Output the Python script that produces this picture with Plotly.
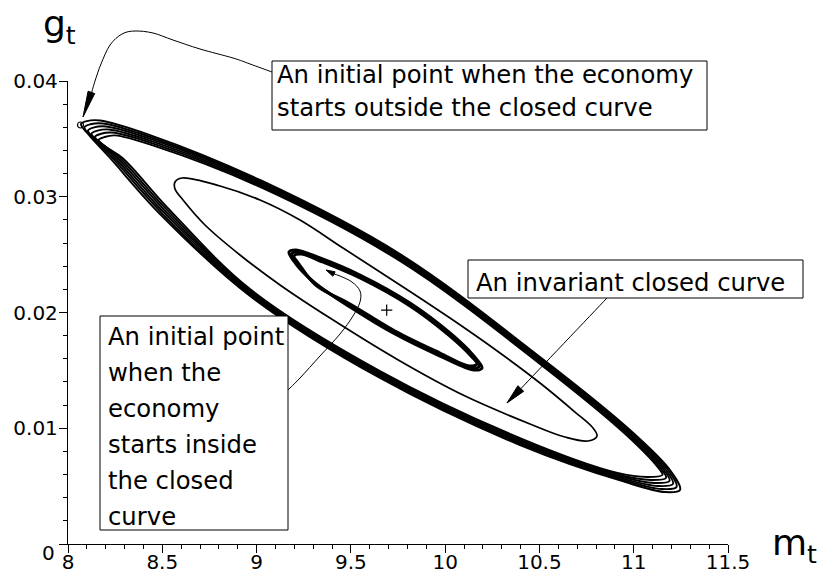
import plotly.graph_objects as go

# ---------------------------------------------------------------
# Trajectories in the (m_t, g_t) plane
# ---------------------------------------------------------------
# Orbit that starts outside the closed curve: successive laps
outer_m = [
    [8.0689, 8.1008, 8.1697, 8.4348, 9.0182, 9.7606, 10.5030, 10.9803, 11.1924, 11.2455, 11.1659, 10.9538, 10.3970, 9.6546, 8.9652, 8.4879, 8.2227, 8.1061, 8.0689],
    [8.0875, 8.1194, 8.1856, 8.4401, 9.0182, 9.7606, 10.5030, 10.9777, 11.1818, 11.2269, 11.1473, 10.9459, 10.3970, 9.6546, 8.9652, 8.4953, 8.2359, 8.1247, 8.0875],
    [8.1060, 8.1379, 8.2015, 8.4454, 9.0182, 9.7606, 10.5030, 10.9750, 11.1712, 11.2084, 11.1288, 10.9379, 10.3970, 9.6546, 8.9652, 8.5027, 8.2492, 8.1432, 8.1060],
    [8.1246, 8.1565, 8.2174, 8.4507, 9.0182, 9.7606, 10.5030, 10.9724, 11.1606, 11.1898, 11.1102, 10.9300, 10.3970, 9.6546, 8.9652, 8.5102, 8.2624, 8.1618, 8.1246],
    [8.1431, 8.1750, 8.2333, 8.4560, 9.0182, 9.7606, 10.5030, 10.9697, 11.1500, 11.1713, 11.0917, 10.9220, 10.3970, 9.6546, 8.9652, 8.5176, 8.2757, 8.1803, 8.1431],
    [8.1617, 8.1936, 8.2493, 8.4613, 9.0182, 9.7606, 10.5030, 10.9671, 11.1394, 11.1527, 11.0731, 10.9141, 10.3970, 9.6546, 8.9652, 8.5250, 8.2890, 8.1989, 8.1617],
]
outer_g = [
    [0.03628, 0.03654, 0.03659, 0.03533, 0.03145, 0.02505, 0.01616, 0.00985, 0.00639, 0.00467, 0.00449, 0.00536, 0.00855, 0.01434, 0.02143, 0.02851, 0.03335, 0.03542, 0.03628],
    [0.03600, 0.03626, 0.03633, 0.03514, 0.03133, 0.02493, 0.01604, 0.00975, 0.00639, 0.00493, 0.00475, 0.00552, 0.00867, 0.01446, 0.02155, 0.02863, 0.03335, 0.03520, 0.03600],
    [0.03573, 0.03599, 0.03607, 0.03495, 0.03121, 0.02481, 0.01592, 0.00964, 0.00639, 0.00519, 0.00501, 0.00567, 0.00879, 0.01458, 0.02167, 0.02875, 0.03335, 0.03499, 0.03573],
    [0.03545, 0.03571, 0.03581, 0.03476, 0.03109, 0.02469, 0.01580, 0.00954, 0.00639, 0.00545, 0.00527, 0.00583, 0.00891, 0.01470, 0.02179, 0.02887, 0.03335, 0.03477, 0.03545],
    [0.03518, 0.03544, 0.03555, 0.03457, 0.03097, 0.02457, 0.01568, 0.00943, 0.00639, 0.00571, 0.00553, 0.00598, 0.00903, 0.01482, 0.02191, 0.02899, 0.03335, 0.03456, 0.03518],
    [0.03490, 0.03516, 0.03530, 0.03438, 0.03085, 0.02445, 0.01556, 0.00933, 0.00639, 0.00597, 0.00579, 0.00614, 0.00915, 0.01494, 0.02203, 0.02911, 0.03335, 0.03434, 0.03490],
]

# The invariant closed curve
invariant_m = [9.7606, 10.0258, 10.2909, 10.5030, 10.6887, 10.7841, 10.8053, 10.7576, 10.6356, 10.4500,
               10.0947, 9.7606, 9.3894, 9.1243, 8.9121, 8.7265, 8.6099, 8.5674, 8.5674, 8.6045,
               8.8061, 9.0182, 9.2303, 9.4583, 9.7606]
invariant_g = [0.02238, 0.01952, 0.01650, 0.01391, 0.01140, 0.01002, 0.00933, 0.00890, 0.00924, 0.01037,
               0.01287, 0.01581, 0.01952, 0.02238, 0.02497, 0.02756, 0.02972, 0.03067, 0.03127, 0.03162,
               0.03093, 0.02972, 0.02799, 0.02557, 0.02238]

# Orbit that starts inside the closed curve: successive laps
inner_m = [
    [9.1720, 9.2091, 9.3364, 9.5485, 9.8136, 10.0258, 10.1477, 10.1955, 10.1530, 9.9727, 9.7341, 9.4955, 9.3099, 9.2091, 9.1720],
    [9.1853, 9.2224, 9.3364, 9.5485, 9.8136, 10.0231, 10.1398, 10.1822, 10.1397, 9.9727, 9.7341, 9.4955, 9.3126, 9.2171, 9.1853],
    [9.1985, 9.2356, 9.3364, 9.5485, 9.8136, 10.0205, 10.1318, 10.1690, 10.1265, 9.9727, 9.7341, 9.4955, 9.3152, 9.2250, 9.1985],
]
inner_g = [
    [0.02523, 0.02540, 0.02471, 0.02324, 0.02082, 0.01823, 0.01633, 0.01521, 0.01503, 0.01624, 0.01814, 0.02048, 0.02255, 0.02419, 0.02523],
    [0.02506, 0.02523, 0.02458, 0.02311, 0.02069, 0.01813, 0.01633, 0.01538, 0.01520, 0.01637, 0.01827, 0.02061, 0.02245, 0.02419, 0.02506],
    [0.02488, 0.02505, 0.02445, 0.02298, 0.02056, 0.01802, 0.01633, 0.01556, 0.01538, 0.01650, 0.01840, 0.02074, 0.02234, 0.02419, 0.02488],
]

fixed_point_m = [9.69]
fixed_point_g = [0.0202]
start_point_m = [8.0663]
start_point_g = [0.0362]

x_ticks = [8, 8.5, 9, 9.5, 10, 10.5, 11, 11.5]
x_tick_text = ["8", "8.5", "9", "9.5", "10", "10.5", "11", "11.5"]
y_ticks = [0, 0.01, 0.02, 0.03, 0.04]
y_tick_text = ["", "0.01", "0.02", "0.03", "0.04"]   # the origin label is placed separately

# ---------------------------------------------------------------
W, H = 819, 578
L, R, T, B = 68, 91, 81, 34
PW, PH = W - L - R, H - T - B
FONT = "DejaVu Sans"


def to_paper(px, py):
    """Canvas pixel position -> paper fraction of the plotting area."""
    return (px - L) / PW, (H - B - py) / PH


def smooth_path(points):
    pts = [to_paper(*p) for p in points]
    d = f"M{pts[0][0]:.5f},{pts[0][1]:.5f}"
    for i in range(len(pts) - 1):
        p0 = pts[i - 1] if i > 0 else pts[i]
        p1, p2 = pts[i], pts[i + 1]
        p3 = pts[i + 2] if i + 2 < len(pts) else pts[i + 1]
        c1 = (p1[0] + (p2[0] - p0[0]) / 6, p1[1] + (p2[1] - p0[1]) / 6)
        c2 = (p2[0] - (p3[0] - p1[0]) / 6, p2[1] - (p3[1] - p1[1]) / 6)
        d += f" C{c1[0]:.5f},{c1[1]:.5f} {c2[0]:.5f},{c2[1]:.5f} {p2[0]:.5f},{p2[1]:.5f}"
    return d


def triangle_path(points):
    pts = [to_paper(*p) for p in points]
    return "M" + " L".join(f"{x:.5f},{y:.5f}" for x, y in pts) + " Z"


fig = go.Figure()

for m, g in zip(outer_m, outer_g):
    fig.add_trace(go.Scatter(x=m, y=g, mode="lines",
                             line=dict(color="black", width=1.9, shape="spline", smoothing=1.0),
                             hoverinfo="skip", showlegend=False))

fig.add_trace(go.Scatter(x=invariant_m, y=invariant_g, mode="lines",
                         line=dict(color="black", width=1.7, shape="spline", smoothing=1.0),
                         hoverinfo="skip", showlegend=False))

for m, g in zip(inner_m, inner_g):
    fig.add_trace(go.Scatter(x=m, y=g, mode="lines",
                             line=dict(color="black", width=3, shape="spline", smoothing=1.0),
                             hoverinfo="skip", showlegend=False))

fig.add_trace(go.Scatter(x=fixed_point_m, y=fixed_point_g, mode="markers",
                         marker=dict(symbol="cross-thin", size=8, line=dict(color="black", width=1.2)),
                         hoverinfo="skip", showlegend=False))
fig.add_trace(go.Scatter(x=start_point_m, y=start_point_g, mode="markers",
                         marker=dict(symbol="circle-open", size=6, color="black", line=dict(width=1.2)),
                         hoverinfo="skip", showlegend=False, cliponaxis=False))

shapes = []
annotations = []

# Call-out boxes
boxes = [((272, 61), (707, 130)), ((100, 316), (288, 530)), ((468, 260), (803, 298))]
for (x0, y0), (x1, y1) in boxes:
    a = to_paper(x0, y1)
    b = to_paper(x1, y0)
    shapes.append(dict(type="rect", xref="paper", yref="paper", x0=a[0], y0=a[1], x1=b[0], y1=b[1],
                       line=dict(color="black", width=1), fillcolor="white", layer="above"))

# Call-out texts: (text, left px, centre py)
text_lines = [
    ("An initial point when the economy", 276, 75),
    ("starts outside the closed curve", 276, 107),
    ("An initial point", 107, 336),
    ("when the", 107, 372),
    ("economy", 107, 408),
    ("starts inside", 107, 444),
    ("the closed", 107, 480),
    ("curve", 107, 516),
    ("An invariant closed curve", 475, 282),
]
for txt, px, py in text_lines:
    x, y = to_paper(px, py)
    annotations.append(dict(text=txt, x=x, y=y, xref="paper", yref="paper", xanchor="left",
                            yanchor="middle", showarrow=False, borderpad=0,
                            font=dict(family=FONT, size=24.3, color="black")))

# Leader curves and arrow heads
leader_curves = [
    [(272, 72), (250, 64), (233, 58), (200, 49), (173, 40), (153, 33), (135, 31), (122, 34),
     (110, 45), (101, 64), (95, 81), (91.5, 93)],
    [(288, 390), (300, 378), (320, 356), (340, 334), (353, 316), (360, 302), (360, 291),
     (352, 282), (340, 276), (334, 274)],
    [(607, 298), (521, 388.5)],
]
for pts in leader_curves:
    shapes.append(dict(type="path", xref="paper", yref="paper", path=smooth_path(pts),
                       line=dict(color="black", width=1), layer="above"))

arrow_heads = [
    [(83, 117), (94.7, 93.6), (88.1, 91.2)],
    [(326, 270), (335.1, 271.8), (332.9, 276.2)],
    [(507, 403), (523.7, 391.3), (517.9, 385.7)],
]
for pts in arrow_heads:
    shapes.append(dict(type="path", xref="paper", yref="paper", path=triangle_path(pts),
                       line=dict(color="black", width=1), fillcolor="black", layer="above"))

# Origin label of the vertical axis, set slightly low
ox, oy = to_paper(56, 553)
annotations.append(dict(text="0", x=ox, y=oy, xref="paper", yref="paper", xanchor="right",
                        yanchor="middle", showarrow=False, borderpad=0,
                        font=dict(family=FONT, size=20, color="black")))

# Axis titles
gx, gy = to_paper(42, 26)
annotations.append(dict(text="g<sub>t</sub>", x=gx, y=gy, xref="paper", yref="paper",
                        xanchor="left", yanchor="middle", showarrow=False, borderpad=0,
                        font=dict(family=FONT, size=36, color="black")))
mx, my = to_paper(771, 545)
annotations.append(dict(text="m<sub>t</sub>", x=mx, y=my, xref="paper", yref="paper",
                        xanchor="left", yanchor="middle", showarrow=False, borderpad=0,
                        font=dict(family=FONT, size=36, color="black")))

axis_common = dict(showline=True, linecolor="black", linewidth=1.3, ticks="outside",
                   ticklen=8, tickwidth=1, tickcolor="black", showgrid=False, zeroline=False,
                   automargin=False,
                   tickfont=dict(family=FONT, size=20, color="black"))

fig.update_layout(
    template="none",
    width=W, height=H,
    margin=dict(l=L, r=R, t=T, b=B, autoexpand=False),
    paper_bgcolor="white", plot_bgcolor="white",
    showlegend=False,
    shapes=shapes, annotations=annotations,
    xaxis=dict(range=[8, 11.5], tickvals=x_ticks, ticktext=x_tick_text, ticklabelstandoff=-8,
               minor=dict(ticks="outside", ticklen=4, tick0=8, dtick=0.1, tickcolor="black", showgrid=False),
               **axis_common),
    yaxis=dict(range=[0, 0.04], tickvals=y_ticks, ticktext=y_tick_text, ticklabelstandoff=-3,
               minor=dict(ticks="outside", ticklen=4, tick0=0, dtick=0.002, tickcolor="black", showgrid=False),
               **axis_common),
)

fig.write_html("out.html")
